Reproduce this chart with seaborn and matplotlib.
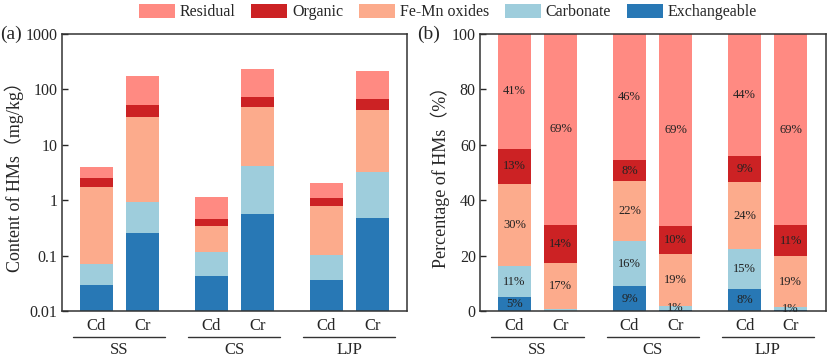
import matplotlib
matplotlib.use("Agg")
import matplotlib.pyplot as plt
import numpy as np
import pandas as pd
import seaborn as sns

sites = ["SS", "CS", "LJP"]
metals = ["Cd", "Cr"]
fractions = ["Residual", "Organic", "Fe-Mn oxides", "Carbonate", "Exchangeable"]
colors = ["#FF8A82", "#CC2224", "#FCAB8C", "#9ECDDC", "#2878B5"]

# content (mg/kg), bars: SS-Cd, SS-Cr, CS-Cd, CS-Cr, LJP-Cd, LJP-Cr
cont_exch = [0.029, 0.259, 0.042, 0.564, 0.037, 0.47]
cont_carb = [0.0425, 0.68, 0.075, 3.64, 0.066, 2.76]
cont_femn = [1.68, 30.4, 0.23, 43.3, 0.68, 39.3]
cont_org = [0.73, 21.0, 0.116, 26.3, 0.315, 24.6]
cont_res = [1.45, 122.7, 0.70, 159.0, 0.94, 151.0]

# percentage (%)
pct_exch = [5.0, 0.15, 9.0, 0.3, 7.8, 0.2]
pct_carb = [11.2, 0.45, 16.2, 1.4, 14.6, 1.1]
pct_femn = [29.7, 16.9, 21.6, 19.0, 24.1, 18.6]
pct_org = [12.7, 13.7, 7.6, 9.9, 9.3, 11.1]
pct_res = [41.4, 68.8, 45.6, 69.4, 44.2, 69.0]

sns.set_style("ticks")
plt.rcParams["font.family"] = ["Liberation Serif", "Noto Sans CJK SC"]

pos = np.array([g * 2.5 + m for g in range(3) for m in range(2)])
palette = dict(zip(fractions, colors))


def long_table(segs):
    # segs ordered bottom -> top; cumulative tops are drawn over each other
    cum = np.cumsum(np.array(segs), axis=0)
    order_bottom_up = fractions[::-1]
    rows = []
    for k, fr in enumerate(order_bottom_up):
        for i, p in enumerate(pos):
            rows.append({"pos": p, "top": cum[k, i], "fraction": fr})
    return pd.DataFrame(rows), cum


fig = plt.figure(figsize=(8.31, 3.58), dpi=100)
ax1 = fig.add_axes([0.0742, 0.1313, 0.4159, 0.7737])
ax2 = fig.add_axes([0.5776, 0.1313, 0.4159, 0.7737])

df1, cum1 = long_table([cont_exch, cont_carb, cont_femn, cont_org, cont_res])
df2, cum2 = long_table([pct_exch, pct_carb, pct_femn, pct_org, pct_res])

for ax, df in [(ax1, df1), (ax2, df2)]:
    sns.barplot(data=df, x="pos", y="top", hue="fraction", hue_order=fractions,
                palette=palette, native_scale=True, dodge=False, width=0.71,
                saturation=1, errorbar=None, legend=False, linewidth=0, ax=ax)

ax1.set_yscale("log")
ax1.set_ylim(0.01, 1000)
ax1.set_yticks([0.01, 0.1, 1, 10, 100, 1000])
ax1.set_yticklabels(["0.01", "0.1", "1", "10", "100", "1000"])
ax1.minorticks_off()
ax1.set_ylabel("Content of HMs（mg/kg）", fontsize=13, labelpad=1)

ax2.set_ylim(0, 100)
ax2.set_yticks([0, 20, 40, 60, 80, 100])
ax2.set_ylabel("Percentage of HMs（%）", fontsize=13, labelpad=1)

# percentage labels
segs2 = np.array([pct_exch, pct_carb, pct_femn, pct_org, pct_res])
bottoms = np.vstack([np.zeros(len(pos)), cum2[:-1]])
for k in range(segs2.shape[0]):
    for i, p in enumerate(pos):
        v = segs2[k, i]
        if round(v) >= 1:
            ax2.text(p, bottoms[k, i] + v / 2, f"{v:.0f}%", ha="center",
                     va="center", fontsize=9, color="#222222")

for ax in (ax1, ax2):
    ax.set_xlim(-0.75, 6.76)
    ax.set_xticks(pos)
    ax.set_xticklabels(metals * 3)
    ax.set_xlabel("")
    ax.tick_params(axis="x", length=0, pad=5, labelsize=12)
    ax.tick_params(axis="y", direction="in", length=4, width=1, labelsize=11.5,
                   pad=3)
    for s in ax.spines.values():
        s.set_visible(True)
        s.set_linewidth(1.1)
        s.set_color("#333333")
    for g, site in enumerate(sites):
        base = g * 2.5
        ax.plot([base - 0.5, base + 1.5], [-0.094, -0.094], color="#333333",
                lw=1, transform=ax.get_xaxis_transform(), clip_on=False)
        ax.text(base + 0.5, -0.142, site, ha="center", va="center",
                fontsize=12, transform=ax.get_xaxis_transform())

fig.text(0.0, 1 - 34 / 358, "(a)", fontsize=14, va="center", ha="left")
fig.text(0.502, 1 - 34 / 358, "(b)", fontsize=14, va="center", ha="left")

handles = [plt.Rectangle((0, 0), 1, 1, facecolor=c, edgecolor="none") for c in colors]
fig.legend(handles, fractions, loc="center", bbox_to_anchor=(0.539, 1 - 12 / 358),
           ncol=5, frameon=False, fontsize=11.5, handlelength=2.25,
           handleheight=1.05, handletextpad=0.3, columnspacing=1.0,
           borderaxespad=0, borderpad=0)

fig.savefig("out.png", dpi=100)
